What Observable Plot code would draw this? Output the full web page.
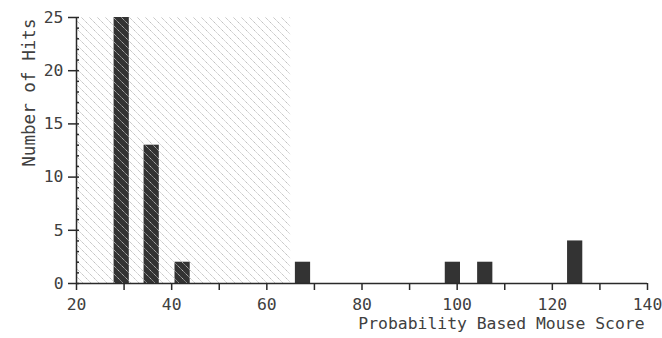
<!DOCTYPE html>
<html>
<head>
<meta charset="utf-8">
<script src="https://cdn.jsdelivr.net/npm/d3@7"></script>
<script src="https://cdn.jsdelivr.net/npm/@observablehq/plot@0.6"></script>
<style>
  html, body { margin: 0; padding: 0; background: white; }
</style>
</head>
<body>
<div id="chart"></div>
<script>
// Data
const scores = [29.5, 35.8, 42.3, 67.6, 99.1, 105.9, 124.8];
const hits = [25, 13, 2, 2, 2, 2, 4];
const shadedFrom = [20];
const shadedTo = [65];
const shadedTop = [25];
const xTicks = [20, 30, 40, 50, 60, 70, 80, 90, 100, 110, 120, 130, 140];
const xTickLabels = ["20", "", "40", "", "60", "", "80", "", "100", "", "120", "", "140"];
const yTicks = [0, 5, 10, 15, 20, 25];
const yMinorTicks = [0, 1, 2, 3, 4, 5, 6, 7, 8, 9, 10, 11, 12, 13, 14, 15, 16, 17, 18, 19, 20, 21, 22, 23, 24, 25];
const xLabel = "Probability Based Mouse Score";
const yLabel = "Number of Hits";

const bars = scores.map((s, i) => ({score: s, hits: hits[i]}));
const shaded = shadedFrom.map((f, i) => ({from: f, to: shadedTo[i], top: shadedTop[i]}));
const labelOf = new Map(xTicks.map((t, i) => [t, xTickLabels[i]]));

const halfWidth = 1.6;
const ink = "#2a2a2a";
const textInk = "#404040";

const svg = Plot.plot({
  width: 662,
  height: 338,
  marginLeft: 76,
  marginRight: 15,
  marginTop: 17,
  marginBottom: 55,
  x: {domain: [20, 140]},
  y: {domain: [0, 25]},
  style: {fontFamily: "'DejaVu Sans Mono', monospace", fontSize: "16.4px", color: textInk, background: "white"},
  marks: [
    Plot.rectY(bars, {x1: d => d.score - halfWidth, x2: d => d.score + halfWidth, y1: 0, y2: "hits", fill: "#333"}),
    Plot.rect(shaded, {x1: "from", x2: "to", y1: 0, y2: "top", fill: "url(#hatch)"}),
    Plot.axisY({ticks: yTicks, tickSize: 8, tickPadding: 5, label: null, stroke: ink, strokeWidth: 1.5}),
    Plot.axisY({ticks: yMinorTicks, tickSize: -3, tickFormat: () => "", label: null, stroke: ink, strokeWidth: 1.5}),
    Plot.axisX({ticks: xTicks, tickSize: 7, tickPadding: 8, tickFormat: d => labelOf.get(d), label: null, stroke: ink, strokeWidth: 1.5}),
    Plot.ruleX([20], {y1: 0, y2: 25, stroke: ink, strokeWidth: 1.5}),
    Plot.ruleY([0], {x1: 20, x2: 140, stroke: ink, strokeWidth: 1.5}),
    Plot.text([yLabel], {frameAnchor: "top-left", rotate: -90, textAnchor: "end", dx: -54, dy: 1, fontSize: 17.6, fill: textInk}),
    Plot.text([xLabel], {frameAnchor: "bottom-right", textAnchor: "end", dx: -3, dy: 45, fill: textInk})
  ]
});

const defs = d3.select(svg).insert("defs", ":first-child");
const pat = defs.append("pattern")
  .attr("id", "hatch")
  .attr("patternUnits", "userSpaceOnUse")
  .attr("width", 8)
  .attr("height", 8);
pat.append("path")
  .attr("d", "M-1,-1L9,9M-1,7L1,9M7,-1L9,1")
  .attr("stroke", "#bcbcbc")
  .attr("stroke-width", 1)
  .attr("stroke-dasharray", "1.4,0.6")
  .attr("fill", "none");

document.getElementById("chart").appendChild(svg);
</script>
</body>
</html>
